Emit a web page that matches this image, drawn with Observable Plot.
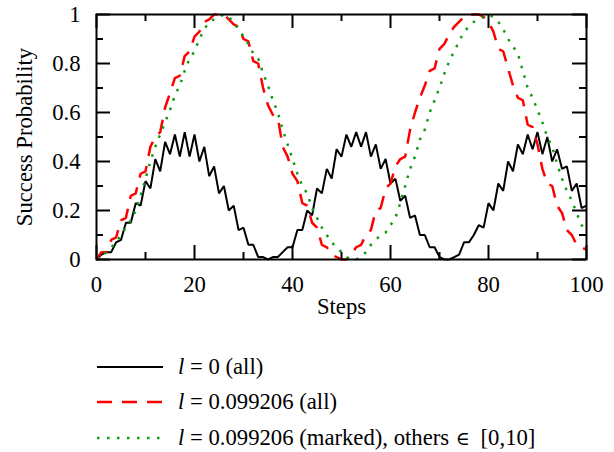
<!DOCTYPE html>
<html>
<head>
<meta charset="utf-8">
<script src="https://cdn.jsdelivr.net/npm/d3@7"></script>
<script src="https://cdn.jsdelivr.net/npm/@observablehq/plot@0.6"></script>
<style>
  html, body { margin: 0; padding: 0; background: #fff; }
  #chart svg { display: block; }
  #legend { font-family: "Liberation Serif", "Times New Roman", serif; font-size: 22.7px; color: #000; }
  .row { display: flex; align-items: center; height: 35.5px; margin-left: 97px; }
  .row svg { display: block; }
  .row > span { margin-left: 15px; white-space: nowrap; }
  .elem { font-family: "DejaVu Serif", serif; font-size: 19px; margin-left: 1px; margin-right: 5px; }
</style>
</head>
<body>
<div id="chart"></div>
<div id="legend"></div>
<script>
const steps = d3.range(0, 101);

// l = 0 (all)
const probL0 = [
  0.00,0.02,0.03,0.03,0.07,0.08,0.15,0.15,0.23,0.22,
  0.32,0.29,0.41,0.36,0.48,0.43,0.51,0.42,0.52,0.42,
  0.51,0.40,0.46,0.34,0.38,0.27,0.30,0.20,0.22,0.12,
  0.13,0.06,0.06,0.01,0.01,0.00,0.01,0.01,0.03,0.05,
  0.05,0.12,0.12,0.20,0.18,0.29,0.27,0.37,0.33,0.45,
  0.42,0.51,0.46,0.52,0.46,0.52,0.42,0.47,0.37,0.41,
  0.31,0.33,0.24,0.26,0.17,0.18,0.10,0.10,0.05,0.05,
  0.01,0.00,0.00,0.01,0.02,0.07,0.07,0.10,0.14,0.13,
  0.23,0.20,0.31,0.28,0.40,0.36,0.47,0.43,0.51,0.45,
  0.52,0.43,0.50,0.40,0.45,0.37,0.38,0.28,0.31,0.21,
  0.22
];

// l = 0.099206 (all)
const probLAll = [
  0.00,0.03,0.03,0.08,0.09,0.16,0.17,0.26,0.27,0.35,
  0.36,0.46,0.50,0.52,0.62,0.68,0.74,0.75,0.83,0.85,
  0.91,0.93,0.97,0.98,1.00,1.00,1.00,0.98,0.96,0.95,
  0.90,0.89,0.81,0.80,0.70,0.63,0.59,0.58,0.46,0.42,
  0.35,0.32,0.23,0.22,0.15,0.13,0.06,0.05,0.02,0.01,
  0.00,0.00,0.02,0.05,0.06,0.10,0.12,0.20,0.21,0.29,
  0.31,0.38,0.41,0.42,0.53,0.60,0.66,0.71,0.77,0.78,
  0.86,0.88,0.92,0.95,0.97,0.99,1.00,1.00,1.00,0.99,
  0.97,0.93,0.86,0.85,0.78,0.71,0.66,0.65,0.55,0.54,
  0.47,0.37,0.31,0.30,0.22,0.19,0.12,0.10,0.06,0.05,
  0.04
];

// l = 0.099206 (marked), others in [0,10]
const probLMarked = [
  0.00,0.01,0.03,0.05,0.07,0.10,0.13,0.16,0.20,0.26,
  0.33,0.40,0.46,0.51,0.56,0.61,0.67,0.71,0.77,0.82,
  0.85,0.90,0.94,0.97,0.98,0.99,1.00,0.99,0.97,0.94,
  0.91,0.88,0.84,0.82,0.76,0.71,0.65,0.60,0.53,0.47,
  0.41,0.35,0.30,0.27,0.21,0.17,0.13,0.10,0.07,0.05,
  0.03,0.01,0.00,0.00,0.01,0.03,0.06,0.08,0.10,0.11,
  0.14,0.17,0.23,0.30,0.37,0.42,0.49,0.53,0.60,0.65,
  0.70,0.76,0.81,0.85,0.89,0.93,0.95,0.97,0.98,0.99,
  1.00,0.99,0.97,0.94,0.90,0.87,0.84,0.77,0.70,0.66,
  0.61,0.56,0.50,0.46,0.39,0.33,0.28,0.24,0.19,0.14,
  0.12
];

const xMajor = [0, 20, 40, 60, 80, 100];
const xMinor = [10, 30, 50, 70, 90];
const yMajor = [0, 0.2, 0.4, 0.6, 0.8, 1];
const yMinor = [0.1, 0.3, 0.5, 0.7, 0.9];

const seriesLabels = [
  " = 0 (all)",
  " = 0.099206 (all)",
  " = 0.099206 (marked), others <span class=\"elem\">∈</span> [0,10]"
];
const seriesColors = ["#000000", "#ff0000", "#109a10"];
const seriesDash = [null, "15,10", "2.5,7.5"];
const seriesWidth = [2, 2.5, 2.5];
const seriesValues = [probL0, probLAll, probLMarked];

const W = 614, H = 349;
const mL = 96, mR = 28, mT = 14, mB = 90;
const innerW = W - mL - mR, innerH = H - mT - mB;
const majorLen = 14, minorLen = 7;

const lineMarks = seriesValues.map((vals, i) =>
  Plot.line(steps.map((s, j) => ({step: s, p: vals[j]})), {
    x: "step", y: "p",
    stroke: seriesColors[i],
    strokeWidth: seriesWidth[i],
    strokeDasharray: seriesDash[i],
    strokeLinecap: "butt",
    strokeLinejoin: "miter"
  })
);

const chart = Plot.plot({
  width: W, height: H,
  marginLeft: mL, marginRight: mR, marginTop: mT, marginBottom: mB,
  style: {fontFamily: "'Liberation Serif', 'Times New Roman', serif", fontSize: "22.7px", background: "white", overflow: "visible"},
  x: {domain: [0, 100]},
  y: {domain: [0, 1]},
  marks: [
    ...lineMarks,
    Plot.tickX(xMajor, {x: d => d, insetTop: innerH - majorLen, strokeWidth: 2}),
    Plot.tickX(xMinor, {x: d => d, insetTop: innerH - minorLen, strokeWidth: 2}),
    Plot.tickX(xMajor, {x: d => d, insetBottom: innerH - majorLen, strokeWidth: 2}),
    Plot.tickX(xMinor, {x: d => d, insetBottom: innerH - minorLen, strokeWidth: 2}),
    Plot.tickY(yMajor, {y: d => d, insetRight: innerW - majorLen, strokeWidth: 2}),
    Plot.tickY(yMinor, {y: d => d, insetRight: innerW - minorLen, strokeWidth: 2}),
    Plot.tickY(yMajor, {y: d => d, insetLeft: innerW - majorLen, strokeWidth: 2}),
    Plot.tickY(yMinor, {y: d => d, insetLeft: innerW - minorLen, strokeWidth: 2}),
    Plot.frame({stroke: "black", strokeWidth: 2}),
    Plot.axisX({ticks: xMajor, tickSize: 0, tickPadding: 16, label: null, tickFormat: d => String(d)}),
    Plot.axisY({ticks: yMajor, tickSize: 0, tickPadding: 16, label: null, tickFormat: d => String(d)}),
    Plot.text(["Steps"], {frameAnchor: "bottom", dy: 54, text: d => d, fill: "black", textAnchor: "middle"}),
    Plot.text(["Success Probability"], {frameAnchor: "left", dx: -72, rotate: -90, text: d => d, fill: "black", textAnchor: "middle", lineAnchor: "middle"})
  ]
});
document.getElementById("chart").appendChild(chart);

// Legend (HTML, below the SVG)
const legend = document.getElementById("legend");
seriesLabels.forEach((label, i) => {
  const row = document.createElement("div");
  row.className = "row";
  const ns = "http://www.w3.org/2000/svg";
  const sw = document.createElementNS(ns, "svg");
  sw.setAttribute("width", 66);
  sw.setAttribute("height", 10);
  const ln = document.createElementNS(ns, "line");
  ln.setAttribute("x1", 0); ln.setAttribute("x2", 66);
  ln.setAttribute("y1", 5); ln.setAttribute("y2", 5);
  ln.setAttribute("stroke", seriesColors[i]);
  ln.setAttribute("stroke-width", seriesWidth[i]);
  if (seriesDash[i]) ln.setAttribute("stroke-dasharray", seriesDash[i]);
  sw.appendChild(ln);
  row.appendChild(sw);
  const span = document.createElement("span");
  span.innerHTML = "<i>l</i>" + label;
  row.appendChild(span);
  legend.appendChild(row);
});
</script>
</body>
</html>
